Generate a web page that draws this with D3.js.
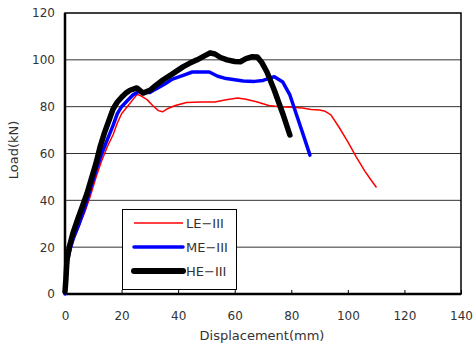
<!DOCTYPE html>
<html>
<head>
<meta charset="utf-8">
<script src="https://cdn.jsdelivr.net/npm/d3@7"></script>
<style>
  body { margin: 0; background: #fff; }
  text { font-family: "DejaVu Sans", sans-serif; fill: #333; }
</style>
</head>
<body>
<svg id="chart" width="473" height="343"></svg>
<script>
// series data: [displacement (mm), load (kN)]
var leData = [[0,0],[0.5,8],[1,14],[2,19],[3,23],[5,29],[7,35],[9,42],[11,50],[13,57],[15,63],[17,68],
  [18.5,73],[20,77],[22,80],[24,83],[25.5,85.3],[27,84.5],[29,83],[31,80.5],[33,78.3],[34.5,77.8],[36,79],
  [39,80.5],[43,81.8],[48,82],[53,82],[57,83],[61,83.7],[64,83.2],[68,82],[72,80.5],[76,80],[80,79.8],
  [84,79.4],[87,78.8],[90,78.6],[92,78],[94,76.5],[97,71],[100,65],[103,58.5],[106,52.5],[108,49],[110,45.7]];
var meData = [[0,0],[0.5,9],[1,15],[2,20],[3,24],[5,30],[7,37],[9,45],[11,53],[13,60],[15,66],[17,72],
  [18.5,77],[20,80],[22,82.5],[24,85],[26,86.5],[28,86],[30,86],[32,87.5],[35,89.5],[38,91.8],[42,93.5],
  [45,94.8],[51,94.8],[54,93],[57,92],[60,91.5],[63,91],[67,90.8],[70,91.2],[74,92.8],[77,90.5],
  [79.5,85],[82,76],[84.5,67],[86.6,59.3]];
var heData = [[0,1],[0.3,6],[0.7,14.5],[1.5,20],[2.8,26],[4.5,32],[6,37],[7.8,43],[9.5,50],[11,56],
  [12.4,62.8],[14,69],[15.5,74],[17,79],[18.5,82],[20,84],[21.5,85.8],[23,87],[25.4,88],[27.6,85.8],
  [30,87],[32,89],[34.6,91.4],[38,94],[41.7,97],[44,98.5],[46.7,100],[49,101.5],[51.3,103],[53,102.5],
  [55,101],[57.3,100],[60,99.3],[62,99.2],[64,100.5],[66,101.3],[68,101.2],[69.5,99],[71.4,94.8],
  [74,87],[77,77],[79.5,67.9]];

var series = [
  {name: "LE\u2212III", data: leData, color: "#ff0000", width: 1.5},
  {name: "ME\u2212III", data: meData, color: "#0000ff", width: 3.5},
  {name: "HE\u2212III", data: heData, color: "#000000", width: 5.5}
];
var xTicks = [0, 20, 40, 60, 80, 100, 120, 140];
var yTicks = [0, 20, 40, 60, 80, 100, 120];

var svg = d3.select("#chart");
var plotLeft = 65, plotRight = 461, plotTop = 13, plotBottom = 294;

var xScale = d3.scaleLinear().domain([0, 140]).range([plotLeft, plotRight]);
var yScale = d3.scaleLinear().domain([0, 120]).range([plotBottom, plotTop]);

// gridlines
svg.append("g")
  .selectAll("line")
  .data(yTicks.filter(function (d) { return d > 0 && d < 120; }))
  .enter().append("line")
  .attr("x1", plotLeft).attr("x2", plotRight)
  .attr("y1", function (d) { return yScale(d); })
  .attr("y2", function (d) { return yScale(d); })
  .attr("stroke", "#333").attr("stroke-width", 1);

// axes
var xAxis = svg.append("g")
  .attr("transform", "translate(0," + plotBottom + ")")
  .call(d3.axisBottom(xScale).tickValues(xTicks).tickSizeInner(-4).tickSizeOuter(0).tickPadding(17));
xAxis.select(".domain").remove();
xAxis.selectAll("line").attr("stroke", "#000");
xAxis.selectAll("text").style("font-size", "12px").attr("fill", "#333").style("font-family", "DejaVu Sans, sans-serif");

var yAxis = svg.append("g")
  .attr("transform", "translate(" + plotLeft + ",0)")
  .call(d3.axisLeft(yScale).tickValues(yTicks).tickSize(0).tickPadding(10));
yAxis.select(".domain").remove();
yAxis.selectAll("text").style("font-size", "12px").attr("fill", "#333").style("font-family", "DejaVu Sans, sans-serif");

// frame
svg.append("rect")
  .attr("x", plotLeft).attr("y", plotTop)
  .attr("width", plotRight - plotLeft).attr("height", plotBottom - plotTop)
  .attr("fill", "none").attr("stroke", "#000").attr("stroke-width", 1.5);
svg.append("line").attr("x1", plotLeft).attr("x2", plotLeft).attr("y1", plotTop).attr("y2", plotBottom)
  .attr("stroke", "#000").attr("stroke-width", 2.5);
svg.append("line").attr("x1", plotLeft).attr("x2", plotRight).attr("y1", plotBottom).attr("y2", plotBottom)
  .attr("stroke", "#000").attr("stroke-width", 2.5);

// curves
var line = d3.line()
  .x(function (d) { return xScale(d[0]); })
  .y(function (d) { return yScale(d[1]); });

series.forEach(function (s) {
  svg.append("path")
    .datum(s.data)
    .attr("fill", "none")
    .attr("stroke", s.color)
    .attr("stroke-width", s.width)
    .attr("stroke-linejoin", "round")
    .attr("stroke-linecap", "round")
    .attr("d", line);
});

// legend
var legend = svg.append("g");
legend.append("rect")
  .attr("x", 122.5).attr("y", 209.5).attr("width", 114).attr("height", 80)
  .attr("fill", "#fff").attr("stroke", "#000").attr("stroke-width", 1);
series.forEach(function (s, i) {
  var y = 223 + i * 24;
  legend.append("line")
    .attr("x1", 134).attr("x2", 183).attr("y1", y).attr("y2", y)
    .attr("stroke", s.color).attr("stroke-width", i === 2 ? 6 : s.width)
    .attr("stroke-linecap", i === 0 ? "butt" : "round");
  legend.append("text")
    .attr("x", 186).attr("y", y + 5)
    .style("font-size", "13px")
    .text(s.name);
});

// axis titles
svg.append("text")
  .attr("transform", "translate(18,150) rotate(-90)")
  .attr("text-anchor", "middle")
  .style("font-size", "13px")
  .text("Load(kN)");
svg.append("text")
  .attr("x", 262).attr("y", 340)
  .attr("text-anchor", "middle")
  .style("font-size", "13px")
  .text("Displacement(mm)");
</script>
</body>
</html>
